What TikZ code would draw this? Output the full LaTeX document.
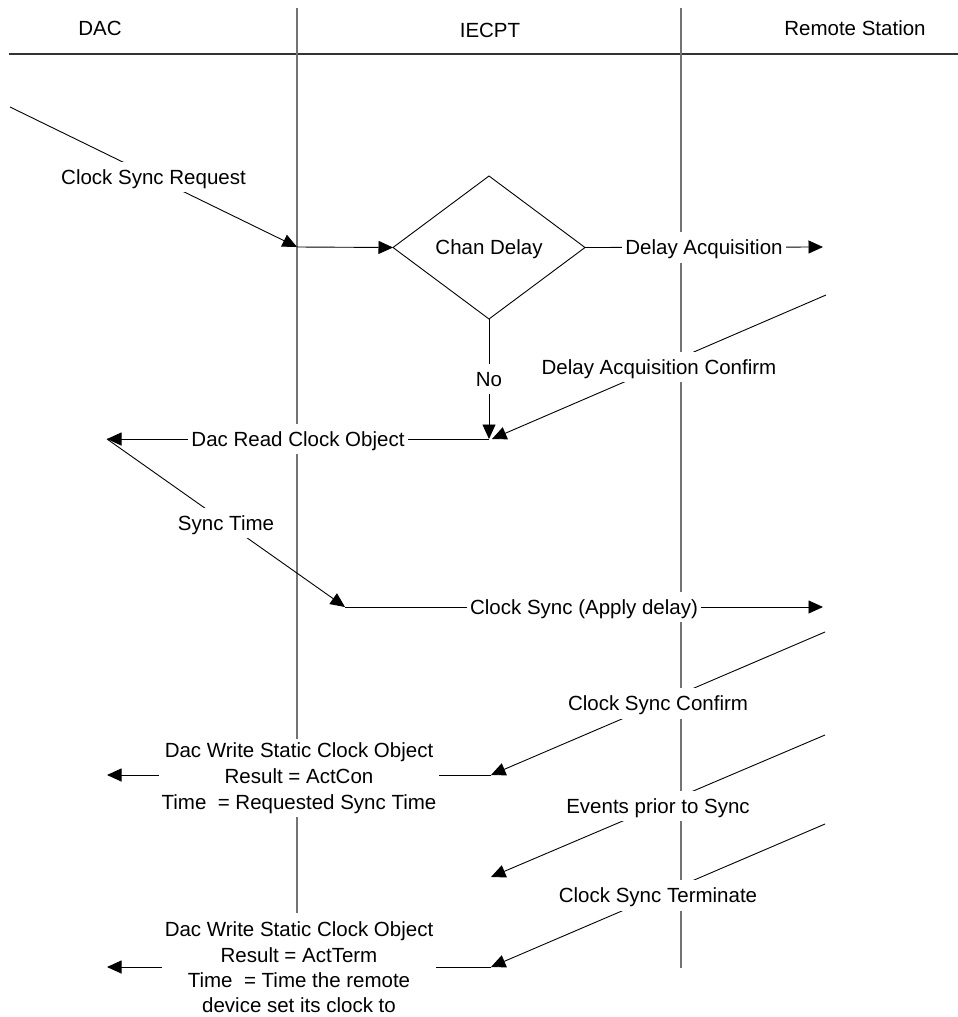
\documentclass[tikz,border=0pt]{standalone}
\usepackage{fontspec}
\setmainfont{Liberation Sans}
\usetikzlibrary{arrows.meta,shapes.geometric}
\begin{document}
\begin{tikzpicture}[x=1pt,y=-1pt,
  font=\fontsize{20.5}{26}\selectfont,
  conn/.style={line width=0.9pt, -{Triangle[length=14.5pt,width=13pt]}},
  lane/.style={line width=1.6pt, black!55},
  header/.style={line width=1.4pt, black!80},
  lbl/.style={fill=white, inner sep=3pt, text height=19.8pt, text depth=5.1pt},
  mlbl/.style={fill=white, inner sep=3pt, align=center, yshift=-3pt},
  hdr/.style={inner sep=0pt, text height=19.8pt, text depth=5.1pt}]
\useasboundingbox (0,0) rectangle (958,1017);
% headers
\node[hdr] (hdac) at (100,28) {DAC};
\node[hdr] (hiec) at (490,30) {IECPT};
\node[hdr] (hrem) at (855,28) {Remote Station};
% lanes
\coordinate (hl) at (9,54);
\coordinate (hr) at (958,54);
\coordinate (l1t) at (297,8);
\coordinate (l1b) at (297,913);
\coordinate (l2t) at (681,8);
\coordinate (l2b) at (681,968);
\draw[header] (hl) -- (hr);
\draw[lane] (l1t) -- (l1b);
\draw[lane] (l2t) -- (l2b);
% free ends
\coordinate (csrs) at (10,107);
\coordinate (csre) at (297,247);
\coordinate (dae) at (823,247);
\coordinate (dacs) at (826,295);
\coordinate (join) at (489,439);
\coordinate (dacl) at (107,439);
\coordinate (stel) at (345,607);
\coordinate (cse) at (823,607);
\coordinate (cscs) at (825,632);
\coordinate (csce) at (491,775);
\coordinate (w1l) at (107,775);
\coordinate (eps) at (825,735);
\coordinate (epe) at (491,877);
\coordinate (ctss) at (825,824);
\coordinate (ctse) at (491,967);
\coordinate (w2l) at (107,967);
% decision
\node[draw, line width=0.9pt, shape=diamond, aspect=1, inner sep=0pt, outer sep=0pt,
      text height=19.8pt, text depth=5.1pt,
      minimum width=192pt, minimum height=143pt] (chan) at (489,247.5) {Chan Delay};
% connectors
\draw[conn] (csrs) -- node[lbl] (lcsr) {Clock Sync Request} (csre);
\draw[conn] (csre) -- (chan.west);
\draw[conn] (chan.east) -- node[lbl] (lda) {Delay Acquisition} (dae);
\draw[conn] (chan.south) -- node[lbl] (lno) {No} (join);
\draw[conn] (dacs) -- node[lbl] (ldac) {Delay Acquisition Confirm} ([xshift=3pt]join);
\draw[conn] (join) -- node[lbl] (ldrc) {Dac Read Clock Object} (dacl);
\draw[conn] (dacl) -- node[lbl] (lst) {Sync Time} (stel);
\draw[conn] (stel) -- node[lbl] (lcs) {Clock Sync (Apply delay)} (cse);
\draw[conn] (cscs) -- node[lbl] (lcsc) {Clock Sync Confirm} (csce);
\draw[conn] (csce) -- node[mlbl] (lw1) {Dac Write Static Clock Object\\Result = ActCon\\Time~~= Requested Sync Time} (w1l);
\draw[conn] (eps) -- node[lbl] (lep) {Events prior to Sync} (epe);
\draw[conn] (ctss) -- node[lbl] (lct) {Clock Sync Terminate} (ctse);
\draw[conn] (ctse) -- node[mlbl, yshift=2.5pt, inner ysep=1pt, font=\fontsize{20.5}{25.3}\selectfont] (lw2) {Dac Write Static Clock Object\\Result = ActTerm\\Time~~= Time the remote\\device set its clock to} (w2l);
\end{tikzpicture}
\end{document}
